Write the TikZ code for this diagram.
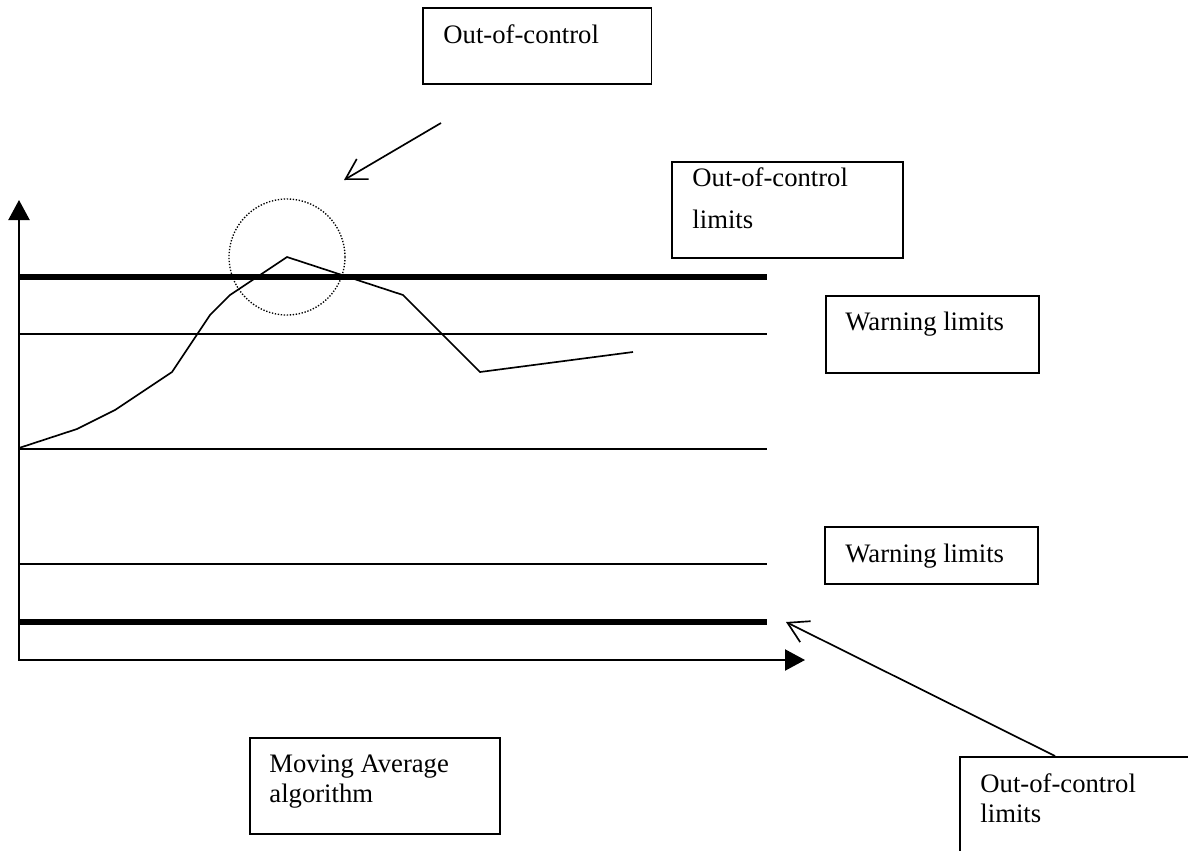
\documentclass[tikz,border=0pt]{standalone}
\usepackage{fontspec}
\setmainfont{Liberation Serif}
\usetikzlibrary{arrows.meta}

\begin{document}
\begin{tikzpicture}[x=0.45pt, y=-0.45pt,
  box/.style={draw, line width=0.7pt, rectangle, inner sep=0pt},
  lbl/.style={anchor=base west, inner sep=0pt, align=left,
              font=\fontsize{12}{13.5}\selectfont},
  limitthin/.style={line width=0.7pt},
  limitthick/.style={line width=2.3pt},
  series/.style={line width=0.75pt, line join=miter},
  axis/.style={line width=0.8pt,
               {Triangle[length=9pt,width=9.5pt]}-{Triangle[length=9pt,width=9.5pt]}},
  pointer/.style={line width=0.75pt, -{Straight Barb[length=9pt,width=10.5pt,line width=0.75pt]}}]

\clip (0,0) rectangle (1188,850);
\fill[white] (0,0) rectangle (1188,850);

% axes
\coordinate (ytop) at (19,200);
\coordinate (origin) at (19,660);
\coordinate (xend) at (805,660);
\draw[axis] (ytop) -- (origin) -- (xend);

% control limits (thick) and warning / centre lines (thin)
\coordinate (uclL) at (19,277);  \coordinate (uclR) at (767,277);
\coordinate (uwlL) at (19,334);  \coordinate (uwlR) at (767,334);
\coordinate (cenL) at (19,449);  \coordinate (cenR) at (767,449);
\coordinate (lwlL) at (19,564);  \coordinate (lwlR) at (767,564);
\coordinate (lclL) at (19,622);  \coordinate (lclR) at (767,622);
\draw[limitthick] (uclL) -- (uclR);
\draw[limitthin]  (uwlL) -- (uwlR);
\draw[limitthin]  (cenL) -- (cenR);
\draw[limitthin]  (lwlL) -- (lwlR);
\draw[limitthick] (lclL) -- (lclR);

% moving average series
\draw[series] (19,448) -- (77,429) -- (115,410) -- (172,372) -- (210,315)
  -- (230,295) -- (287,257) -- (403,295) -- (480,372) -- (633,352);

% marker around the excursion
\node[draw, circle, line width=0.6pt, dash pattern=on 0.6pt off 0.75pt,
      minimum size=52.2pt, inner sep=0pt] (peakmark) at (287,257) {};

% top annotation
\node[box, minimum width=103pt, minimum height=34.2pt, anchor=north west] (ooc) at (422,7) {};
\node[lbl] (ooctxt) at (443,43) {Out-of-control};
\coordinate (oocfrom) at (441,123);
\coordinate (oocto) at (344,180);
\draw[pointer] (oocfrom) -- (oocto);

% right-hand labels (multi-line labels are placed by their last baseline)
\node[box, minimum width=103.95pt, minimum height=43.2pt, anchor=north west] (uclbox) at (671,161) {};
\node[lbl, font=\fontsize{12}{18.5}\selectfont] (ucltxt) at (692,228) {Out-of-control\\limits};

\node[box, minimum width=95.85pt, minimum height=34.65pt, anchor=north west] (uwlbox) at (825,295) {};
\node[lbl] (uwltxt) at (845,330) {Warning limits};

\node[box, minimum width=95.85pt, minimum height=25.65pt, anchor=north west] (lwlbox) at (824,526) {};
\node[lbl] (lwltxt) at (845,562) {Warning limits};

% bottom labels
\node[box, minimum width=112.5pt, minimum height=43.2pt, anchor=north west] (mabox) at (249,737) {};
\node[lbl] (matxt) at (269,802) {Moving Average\\algorithm};

\node[box, minimum width=112pt, minimum height=60pt, anchor=north west] (lclbox) at (959,756) {};
\node[lbl] (lcltxt) at (980,822) {Out-of-control\\limits};
\coordinate (lclfrom) at (1055,756);
\coordinate (lclto) at (786,622);
\draw[pointer] (lclfrom) -- (lclto);

\end{tikzpicture}
\end{document}
